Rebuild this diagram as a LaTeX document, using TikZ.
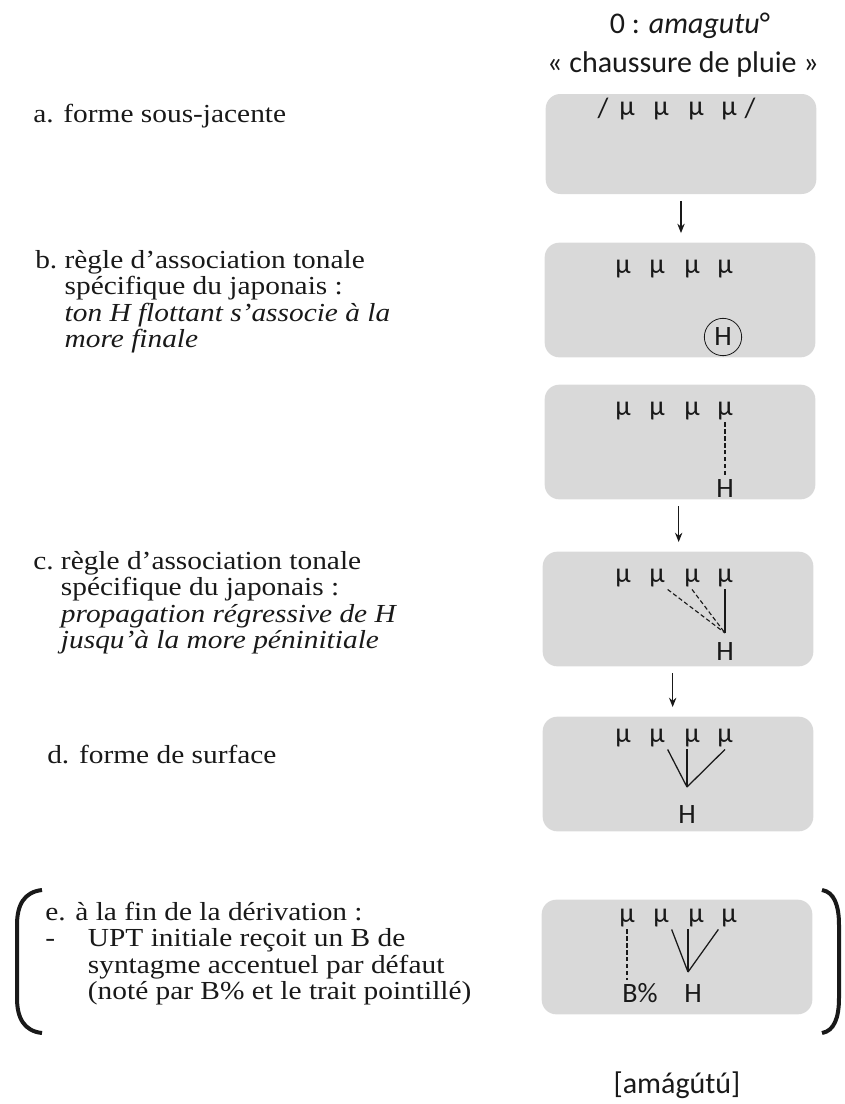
\documentclass[tikz,border=0pt]{standalone}
\usepackage{fontspec}
\setmainfont{Liberation Serif}[FakeStretch=1.13]
\newfontfamily\calib{Carlito}
\usetikzlibrary{arrows.meta,positioning,calc}
\definecolor{panelgray}{RGB}{217,217,217}
\definecolor{inkgray}{RGB}{25,25,25}
\newcommand{\morarow}[3]{%
  \foreach \i/\dx in {1/0,2/34,3/69,4/102}
    \node[mora] (#1\i) at (#2+\dx,#3) {μ};}
\tikzset{
  panel/.style={fill=panelgray, rounded corners=11pt, minimum width=203pt, minimum height=86pt, inner sep=0pt},
  mora/.style={font=\calib\fontsize{21}{25}\selectfont, text=inkgray, anchor=base, inner sep=2pt},
  tone/.style={font=\calib\fontsize{21}{25}\selectfont, text=inkgray, anchor=base, inner sep=2pt},
  hdr/.style={font=\calib\fontsize{22.5}{27}\selectfont, text=inkgray, anchor=base, inner sep=0pt},
  lefttext/.style={font=\fontsize{19.5}{19.9}\selectfont, text=inkgray, anchor=base west, inner sep=0pt},
  assoc/.style={inkgray, line width=0.95pt},
  linkdash/.style={inkgray, line width=0.85pt, dash pattern=on 3.2pt off 2pt},
  darr/.style={-{Stealth[length=7pt,width=5.5pt]}, inkgray, line width=1.1pt, shorten <=5pt, shorten >=7pt},
  brk/.style={inkgray, line width=3pt},
}
\begin{document}
\begin{tikzpicture}[x=0.75pt,y=-0.75pt]
\useasboundingbox (0,0) rectangle (844,1104);
% header
\node[hdr] (word) at (690,33) {0 : \textit{amagutu}°};
\node[hdr] (gloss) at (683,72) {« chaussure de pluie »};
\node[hdr] (surface) at (677,1093) {[amágútú]};
% panels
\node[panel, minimum height=75pt] (pa) at (681,144) {};
\node[panel] (pb) at (680,300) {};
\node[panel] (pbb) at (680,442) {};
\node[panel] (pc) at (678,609) {};
\node[panel] (pd) at (678,774) {};
\node[panel] (pe) at (677,957) {};
\draw[darr] (pa.south) -- (pa.south |- pb.north);
\draw[darr] ([xshift=-1pt]pbb.south) -- ([xshift=-1pt]pbb.south |- pc.north);
\draw[darr] ([xshift=-4pt]pc.south) -- ([xshift=-4pt]pc.south |- pd.north);
% a
\node[mora] (aL) at (603,117) {/};
\morarow{a}{627}{115}
\node[mora] (aR) at (750,117) {/};
% b
\morarow{b}{623}{273}
\node[tone, circle, draw=inkgray, line width=0.6pt, minimum size=28pt, inner sep=0pt, anchor=center] (bH) at (723,337) {H};
\morarow{bb}{623}{415}
\node[tone] (bbH) at (725,497) {H};
\draw[linkdash] (bb4.south) -- (bbH.north);
% c
\morarow{c}{623}{582}
\node[tone] (cH) at (725,660) {H};
\coordinate (cJ) at (725,633);
\draw[assoc] (c4.south) -- (cJ);
\draw[linkdash] (c2.south east) -- (cJ);
\draw[linkdash] (c3.south) -- (cJ);
% d
\morarow{d}{623}{742}
\node[tone] (dH) at (687,823) {H};
\coordinate (dJ) at (687,787);
\draw[assoc] (d2.south east) -- (dJ);
\draw[assoc] (d3.south -| dJ) -- (dJ);
\draw[assoc] (d4.south) -- (dJ);
% e
\morarow{e}{627}{922}
\node[tone] (eB) at (640,1002) {B\%};
\node[tone] (eH) at (693,1002) {H};
\coordinate (eJ) at (688,972);
\draw[linkdash] (e1.south) -- (e1.south |- eB.north);
\draw[assoc] (e2.south east) -- (eJ);
\draw[assoc] (e3.south -| eJ) -- (eJ);
\draw[assoc] (e4.south west) -- (eJ);
% left column
\node[lefttext] (ta) at (33,122) {a. forme sous-jacente};
\node[lefttext] (tb) at (35,268) {b.~\begin{tabular}[t]{@{}l@{}}règle d’association tonale\\
  spécifique du japonais :\\ \textit{ton H flottant s’associe à la}\\ \textit{more finale}\end{tabular}};
\node[lefttext] (tc) at (33,569) {c.~\begin{tabular}[t]{@{}l@{}}règle d’association tonale\\
  spécifique du japonais :\\ \textit{propagation régressive de H}\\ \textit{jusqu’à la more péninitiale}\end{tabular}};
\node[lefttext] (td) at (47,763) {d. forme de surface};
\node[lefttext] (te) at (45,920) {\begin{tabular}[t]{@{}p{32pt}@{}l@{}}\multicolumn{2}{@{}l@{}}{e. à la fin de la dérivation :}\\
  - & UPT initiale reçoit un B de\\ & syntagme accentuel par défaut\\ & (noté par B\% et le trait pointillé)\end{tabular}};
% brackets
\draw[brk] (42,890) .. controls (24,892) and (17,905) .. (17,925) -- (17,998) .. controls (17,1018) and (24,1031) .. (42,1033);
\draw[brk] (822,890) .. controls (834,892) and (839,905) .. (839,925) -- (839,998) .. controls (839,1018) and (834,1031) .. (822,1033);
\end{tikzpicture}
\end{document}
